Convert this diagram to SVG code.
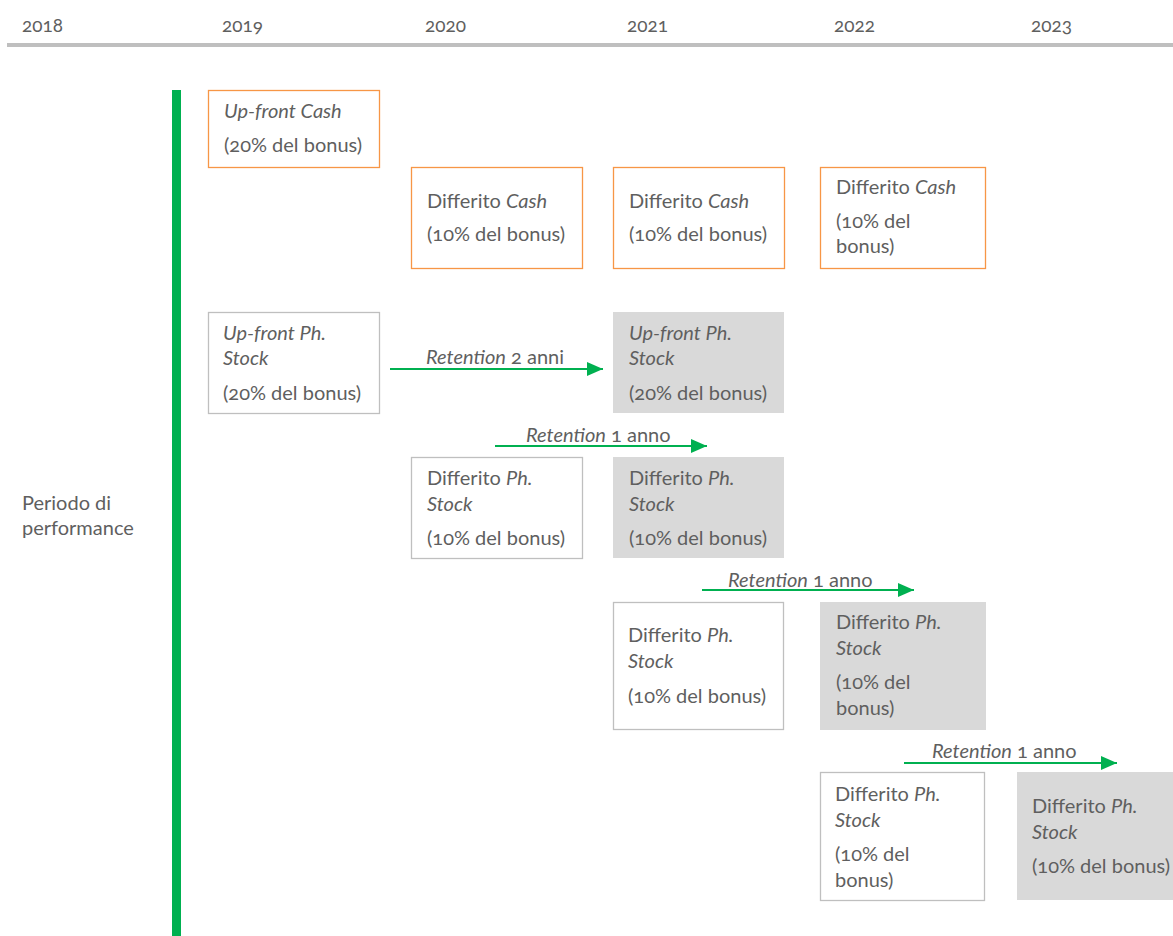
<svg xmlns="http://www.w3.org/2000/svg" width="1173" height="936" viewBox="0 0 1173 936">
<style>
text{font-family:Lato,"Open Sans","Liberation Sans",sans-serif;fill:#5f5f5f;font-variant-numeric:oldstyle-nums}
.yr{font-size:19px}
.t{font-size:20px}
.r{font-size:20px}
.i{font-style:italic}
.cash{fill:#fff;stroke:#f79646;stroke-width:1.3}
.stk{fill:#fff;stroke:#bfbfbf;stroke-width:1.3}
.gry{fill:#d9d9d9;stroke:none}
.arr{stroke:#00b050;stroke-width:2;fill:none}
</style>
<defs>
<marker id="ah" markerUnits="userSpaceOnUse" markerWidth="16" markerHeight="16" viewBox="0 0 16 16" refX="16" refY="8" orient="auto">
<path d="M0,1 L16,8 L0,15 Z" fill="#00b050"/>
</marker>
</defs>
<rect width="1173" height="936" fill="#fff"/>
<g id="timeline">
<rect x="7" y="43" width="1166" height="4" fill="#bfbfbf"/>
<text class="yr" x="22" y="32">2018</text>
<text class="yr" x="222" y="32">2019</text>
<text class="yr" x="425" y="32">2020</text>
<text class="yr" x="627" y="32">2021</text>
<text class="yr" x="834" y="32">2022</text>
<text class="yr" x="1031" y="32">2023</text>
</g>
<g id="performance">
<rect x="172" y="90" width="9" height="846" fill="#00b050"/>
<text class="t" x="22" y="510">Periodo di</text>
<text class="t" x="22" y="535">performance</text>
</g>
<g id="upfront-cash">
<rect class="cash" x="208.5" y="90.5" width="171" height="77"/>
<text class="t i" x="224" y="118">Up-front Cash</text>
<text class="t" x="224" y="152">(20% del bonus)</text>
</g>
<g id="diff-cash-2020">
<rect class="cash" x="411.5" y="167.5" width="171" height="101"/>
<text class="t" x="427" y="208">Differito <tspan class="i">Cash</tspan></text>
<text class="t" x="427" y="241">(10% del bonus)</text>
</g>
<g id="diff-cash-2021">
<rect class="cash" x="613.5" y="167.5" width="171" height="101"/>
<text class="t" x="629" y="208">Differito <tspan class="i">Cash</tspan></text>
<text class="t" x="629" y="241">(10% del bonus)</text>
</g>
<g id="diff-cash-2022">
<rect class="cash" x="820.5" y="167.5" width="165" height="101"/>
<text class="t" x="836" y="194">Differito <tspan class="i">Cash</tspan></text>
<text class="t" x="836" y="228">(10% del</text>
<text class="t" x="836" y="253">bonus)</text>
</g>
<g id="upfront-stock-2019">
<rect class="stk" x="208.5" y="312.5" width="171" height="101"/>
<text class="t i" x="223" y="340">Up-front Ph.</text>
<text class="t i" x="223" y="365">Stock</text>
<text class="t" x="223" y="400">(20% del bonus)</text>
</g>
<g id="upfront-stock-2021">
<rect class="gry" x="613" y="312" width="171" height="101"/>
<text class="t i" x="629" y="340">Up-front Ph.</text>
<text class="t i" x="629" y="365">Stock</text>
<text class="t" x="629" y="400">(20% del bonus)</text>
</g>
<g id="diff-stock-2020">
<rect class="stk" x="411.5" y="457.5" width="171" height="101"/>
<text class="t" x="427" y="485">Differito <tspan class="i">Ph.</tspan></text>
<text class="t i" x="427" y="511">Stock</text>
<text class="t" x="427" y="545">(10% del bonus)</text>
</g>
<g id="diff-stock-2021-ret">
<rect class="gry" x="613" y="457" width="171" height="101"/>
<text class="t" x="629" y="485">Differito <tspan class="i">Ph.</tspan></text>
<text class="t i" x="629" y="511">Stock</text>
<text class="t" x="629" y="545">(10% del bonus)</text>
</g>
<g id="diff-stock-2021">
<rect class="stk" x="613.5" y="602.5" width="170" height="127"/>
<text class="t" x="628" y="642">Differito <tspan class="i">Ph.</tspan></text>
<text class="t i" x="628" y="668">Stock</text>
<text class="t" x="628" y="703">(10% del bonus)</text>
</g>
<g id="diff-stock-2022-ret">
<rect class="gry" x="820" y="602" width="166" height="128"/>
<text class="t" x="836" y="629">Differito <tspan class="i">Ph.</tspan></text>
<text class="t i" x="836" y="655">Stock</text>
<text class="t" x="836" y="689">(10% del</text>
<text class="t" x="836" y="715">bonus)</text>
</g>
<g id="diff-stock-2022">
<rect class="stk" x="820.5" y="772.5" width="164" height="128"/>
<text class="t" x="835" y="801">Differito <tspan class="i">Ph.</tspan></text>
<text class="t i" x="835" y="827">Stock</text>
<text class="t" x="835" y="861">(10% del</text>
<text class="t" x="835" y="887">bonus)</text>
</g>
<g id="diff-stock-2023-ret">
<rect class="gry" x="1017" y="772" width="156" height="128"/>
<text class="t" x="1032" y="813">Differito <tspan class="i">Ph.</tspan></text>
<text class="t i" x="1032" y="839">Stock</text>
<text class="t" x="1032" y="873">(10% del bonus)</text>
</g>
<g id="connectors">
<line class="arr" x1="390" y1="369" x2="603" y2="369" marker-end="url(#ah)"/>
<text class="r" x="426" y="364"><tspan class="i">Retention</tspan> 2 anni</text>
<line class="arr" x1="495" y1="446" x2="707" y2="446" marker-end="url(#ah)"/>
<text class="r" x="526" y="442"><tspan class="i">Retention</tspan> 1 anno</text>
<line class="arr" x1="702" y1="590" x2="914" y2="590" marker-end="url(#ah)"/>
<text class="r" x="728" y="587"><tspan class="i">Retention</tspan> 1 anno</text>
<line class="arr" x1="904" y1="763" x2="1117" y2="763" marker-end="url(#ah)"/>
<text class="r" x="932" y="758"><tspan class="i">Retention</tspan> 1 anno</text>
</g>
</svg>
